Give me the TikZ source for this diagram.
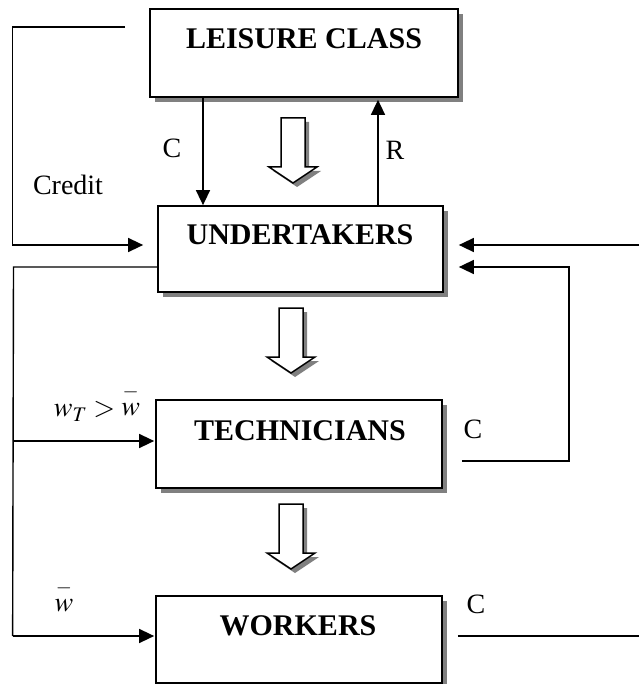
\documentclass[tikz,border=0pt]{standalone}
\usepackage{mathptmx}
\usepackage{fontspec}
\setmainfont{Liberation Serif}
\usetikzlibrary{arrows.meta,shadows,calc}
\definecolor{shadowgray}{HTML}{808080}
\tikzset{
  box/.style={draw, line width=1.7pt, fill=white, inner sep=0pt,
    drop shadow={shadow xshift=5pt, shadow yshift=-5pt, fill=shadowgray, opacity=1}},
  title/.style={font=\fontsize{30}{36}\selectfont\bfseries, anchor=base, inner sep=0pt},
  lab/.style={font=\fontsize{28}{32}\selectfont, inner sep=0pt},
  conn/.style={line width=1.4pt},
  arr/.style={conn, -{Triangle[length=15pt,width=14pt]}},
}
\newcommand\hollowdown[2]{%
  \begin{scope}[shift={(#1,#2)}]
    \fill[shadowgray] (-8,4) -- (16,4) -- (16,53) -- (28,53) -- (4,69) -- (-20,53) -- (-8,53) -- cycle;
    \filldraw[fill=white, line width=1.5pt, line join=miter] (-12,0) -- (12,0) -- (12,49) -- (24,49) -- (0,65) -- (-24,49) -- (-12,49) -- cycle;
  \end{scope}}
\newcommand\wbar{\mathord{\stackrel{-}{w}}}
\begin{document}
\begin{tikzpicture}[x=1pt,y=-1pt]
\useasboundingbox (0,0) rectangle (639,684);
% boxes
\node[box, minimum width=308pt, minimum height=88pt] (lc) at (304,53) {};
\node[box, minimum width=285pt, minimum height=86pt] (ut) at (300.5,249) {};
\node[box, minimum width=286pt, minimum height=88pt] (te) at (299,444) {};
\node[box, minimum width=286pt, minimum height=87pt] (wk) at (299,639.5) {};
\node[title] (lct) at (304,49) {LEISURE CLASS};
\node[title] (utt) at (300,245) {UNDERTAKERS};
\node[title] (tet) at (300,440) {TECHNICIANS};
\node[title] (wkt) at (298,635) {WORKERS};
% hollow arrows
\hollowdown{293}{118}
\hollowdown{291}{308}
\hollowdown{291}{504}
% free ends
\coordinate (credtop) at (125,27);
\coordinate (rin) at (639,245);
\coordinate (wout) at (639,636);
\coordinate (rloop) at (569,267);
\coordinate (lline) at (13.5,267);
% C and R between leisure class and undertakers
\draw[arr] ([xshift=-101pt]lc.south) -- ([xshift=-97.5pt]ut.north);
\draw[arr] ([xshift=77.5pt]ut.north) -- ([shift={(74pt,-2pt)}]lc.south);
% credit loop
\draw[arr] (credtop) -| ($(ut.west)+(-144.5,-4)$) -- ($(ut.west)+(-14,-4)$);
% right inputs
\draw[arr] (rin) -- ($(ut.east)+(15,-4)$);
\draw[arr] ($(te.east)+(19,17)$) -| (rloop) -- ($(ut.east)+(15,18)$);
\draw[conn] ($(wk.east)+(15,-3.5)$) -- (wout);
% left wage lines
\draw[conn] ($(ut.west)+(0,18)$) -- (lline) -- ($(wk.west)+(-142.5,-3.5)$);
\draw[arr] ($(wk.west)+(-142.5,-3.5)$) -- ($(wk.west)+(-1,-3.5)$);
\draw[arr] ($(te.west)+(-142.5,-3)$) -- ($(te.west)+(-1,-3)$);
% labels
\node[lab] (lC) at (172,148) {C};
\node[lab] (lR) at (395,150) {R};
\node[lab] (lcred) at (68,185) {Credit};
\node[lab] (lC2) at (473,429) {C};
\node[lab] (lC3) at (476,604) {C};
\node[lab] (lwt) at (97,402) {$w_T > \wbar$};
\node[lab] (lw) at (64,596) {$\wbar$};
\end{tikzpicture}
\end{document}
